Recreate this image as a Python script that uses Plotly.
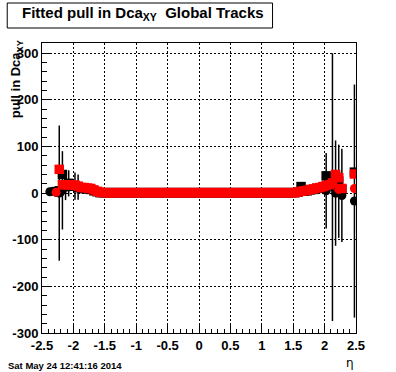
import numpy as np
import plotly.graph_objects as go

# ---------------- data ----------------
# bin centres (width 0.05) for the square-marker series
eta_sq = np.round(np.arange(-2.225, 2.5, 0.05), 3)

red_sq = [51, 18, 18, 18, 18, 17, 15, 12, 12, 11, 10, 7, 4, 2,
          1, 1, 1, 1, 1, 1, 1, 1, 1, 1, 1, 1, 1, 1, 1, 1, 1, 1, 1, 1, 1,
          1, 1, 1, 1, 1, 1, 1, 1, 1, 1, 1, 1, 1, 1, 1, 1, 1, 1, 1, 1, 1,
          1, 1, 1, 1, 1, 1, 1, 1, 1, 1, 1, 1, 1, 1, 1, 1, 1, 1, 1, 1,
          2, 4, 5, 6, 8, 9, 11, 12, 14, 16, 18, 22, 40, 33, 10,
          None, None, None, 41]

black_sq = [5, 40, 14, 21, 15, 15, 13, 10, 10, 9, 8, 5, 3, 1,
            1, 1, 1, 1, 1, 1, 1, 1, 1, 1, 1, 1, 1, 1, 1, 1, 1, 1, 1, 1, 1,
            1, 1, 1, 1, 1, 1, 1, 1, 1, 1, 1, 1, 1, 1, 1, 1, 1, 1, 1, 1, 1,
            1, 1, 1, 1, 1, 1, 1, 1, 1, 1, 1, 1, 1, 1, 1, 1, 1, 1, 1, 1,
            2, 14, 4, 5, 7, 8, 10, 11, 13, 37, 15, 20, 35, 26, 8,
            None, None, None, 45]

black_sq_err = [5, 5, 29, 28, 6, 29, 27, 5, 5, 5, 5, 5, 5, 3,
                2, 2, 2, 2, 2, 2, 2, 2, 2, 2, 2, 2, 2, 2, 2, 2, 2, 2, 2, 2, 2,
                2, 2, 2, 2, 2, 2, 2, 2, 2, 2, 2, 2, 2, 2, 2, 2, 2, 2, 2, 2, 2,
                2, 2, 2, 2, 2, 2, 2, 2, 2, 2, 2, 2, 2, 2, 2, 2, 2, 2, 2, 2,
                3, 4, 5, 5, 8, 8, 8, 8, 8, 6, 6, 6, 6, 6, 6,
                0, 0, 0, 5]

# circle-marker series (only where visible)
eta_bc = [-2.375, -2.325, -2.275, -2.225, -2.175, 2.025, 2.125, 2.175, 2.225, 2.275, 2.475]
black_c = [3, 4, 2, 0, 6, 5, 13, 0, 4, -5, -17]
black_c_err = [8, 6, 10, 145, 84, 81, 287, 113, 100, 100, 250]

eta_rc = [-2.275, 2.225, 2.475]
red_c = [2, 8, 10]

x_ticks = [-2.5, -2, -1.5, -1, -0.5, 0, 0.5, 1, 1.5, 2, 2.5]
x_labels = ["-2.5", "-2", "-1.5", "-1", "-0.5", "0", "0.5", "1", "1.5", "2", "2.5"]
y_ticks = [-300, -200, -100, 0, 100, 200, 300]
y_labels = ["-300", "-200", "-100", "0", "100", "200", "300"]

# ---------------- geometry helpers (pixels -> paper) ----------------
W, H = 396, 372
L, R, T, B = 40, 40, 43, 39
PW, PH = W - L - R, H - T - B


def px(p):
    return (p - L) / PW


def py(p):
    return (H - B - p) / PH


FONT = "Liberation Sans, Arial, Helvetica, sans-serif"

fig = go.Figure()

err_style = dict(type="data", visible=True, color="black", thickness=1.5, width=0)

fig.add_trace(go.Scatter(
    x=eta_sq, y=black_sq, mode="markers",
    marker=dict(symbol="square", size=9.5, color="black", line=dict(width=0)),
    error_y=dict(array=black_sq_err, **err_style)))

fig.add_trace(go.Scatter(
    x=eta_bc, y=black_c, mode="markers",
    marker=dict(symbol="circle", size=9, color="black", line=dict(width=0)),
    error_y=dict(array=black_c_err, **err_style)))

fig.add_trace(go.Scatter(
    x=eta_sq, y=red_sq, mode="markers",
    marker=dict(symbol="square", size=9.5, color="#ff0000", line=dict(width=0))))

fig.add_trace(go.Scatter(
    x=eta_rc, y=red_c, mode="markers",
    marker=dict(symbol="circle", size=9, color="#ff0000", line=dict(width=0))))

axis_common = dict(
    showline=True, linecolor="black", linewidth=1, mirror=True,
    ticks="inside", tickcolor="black", tickwidth=1,
    showgrid=True, gridcolor="black", gridwidth=1, griddash="2px,2px",
    zeroline=False,
    tickfont=dict(family=FONT, size=13, color="black", weight="bold"),
)

fig.update_layout(
    width=W, height=H,
    margin=dict(l=L, r=R, t=T, b=B, pad=0),
    paper_bgcolor="white", plot_bgcolor="white",
    showlegend=False,
    xaxis=dict(range=[-2.5, 2.5], tickvals=x_ticks, ticktext=x_labels, ticklen=9,
               minor=dict(ticks="inside", dtick=0.1, tick0=-2.5, ticklen=4.5,
                          tickcolor="black", showgrid=False),
               **axis_common),
    yaxis=dict(range=[-300, 322], tickvals=y_ticks, ticktext=y_labels, ticklen=10,
               minor=dict(ticks="inside", dtick=20, tick0=-300, ticklen=5,
                          tickcolor="black", showgrid=False),
               **axis_common),
)

# title box
fig.add_shape(type="rect", xref="paper", yref="paper",
              x0=px(5), x1=px(272), y0=py(28), y1=py(3),
              line=dict(color="black", width=1), fillcolor="white")
fig.add_annotation(xref="paper", yref="paper", x=px(18), y=py(14),
                   xanchor="left", yanchor="middle", showarrow=False,
                   text="Fitted pull in Dca<sub>XY</sub>  Global Tracks",
                   font=dict(family=FONT, size=15, color="black", weight="bold"))

# y axis title
fig.add_annotation(xref="paper", yref="paper", x=px(14), y=py(38),
                   xanchor="center", yanchor="top", showarrow=False, textangle=-90,
                   text="pull in Dca<sub>XY</sub>",
                   font=dict(family=FONT, size=13, color="black", weight="bold"))

# x axis title
fig.add_annotation(xref="paper", yref="paper", x=px(350), y=py(363),
                   xanchor="center", yanchor="middle", showarrow=False,
                   text="η",
                   font=dict(family="DejaVu Sans, sans-serif", size=12, color="black"))

# date stamp
fig.add_annotation(xref="paper", yref="paper", x=px(4), y=py(365),
                   xanchor="left", yanchor="middle", showarrow=False,
                   text="Sat May 24 12:41:16 2014",
                   font=dict(family=FONT, size=9.5, color="black", weight="bold"))

fig.write_html("out.html")
